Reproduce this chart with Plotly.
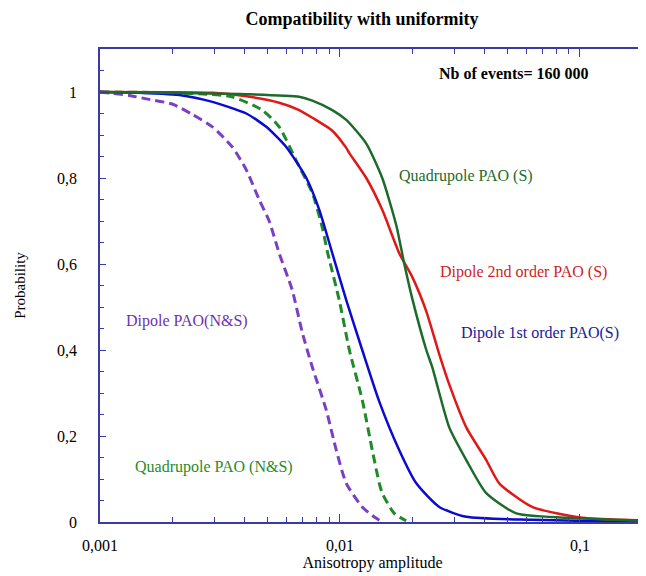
import math
import plotly.graph_objects as go

# ---- data (x = anisotropy amplitude, y = probability) ----
quad_s_x = [0.001, 0.00407, 0.00676, 0.00767, 0.00929, 0.01062, 0.01287, 0.0150, 0.01716,
            0.01854, 0.0200, 0.02289, 0.02424, 0.02853, 0.0336, 0.0407, 0.0543, 0.0877, 0.1854]
quad_s_y = [1.0, 0.995, 0.989, 0.98, 0.958, 0.935, 0.88, 0.80, 0.69,
            0.60, 0.52, 0.40, 0.36, 0.22, 0.144, 0.067, 0.02, 0.01, 0.003]

dip2_s_x = [0.001, 0.00294, 0.00407, 0.00558, 0.00676, 0.00767, 0.00929, 0.01062, 0.01094,
            0.01287, 0.0150, 0.01766, 0.0200, 0.02289, 0.02593, 0.02853, 0.0336, 0.0407,
            0.0461, 0.0632, 0.1022, 0.1854]
dip2_s_y = [1.0, 0.998, 0.99, 0.975, 0.958, 0.94, 0.91, 0.87, 0.858,
            0.80, 0.726, 0.625, 0.57, 0.49, 0.39, 0.32, 0.22, 0.144,
            0.09, 0.035, 0.01, 0.004]

dip1_s_x = [0.001, 0.001325, 0.00214, 0.00294, 0.00407, 0.00493, 0.00597, 0.00724, 0.0082,
            0.00929, 0.01062, 0.01238, 0.01458, 0.01766, 0.0208, 0.02593, 0.0336, 0.0632,
            0.120, 0.1854]
dip1_s_y = [1.0, 0.999, 0.993, 0.977, 0.95, 0.919, 0.872, 0.80, 0.726,
            0.625, 0.516, 0.40, 0.28, 0.167, 0.09, 0.035, 0.012, 0.005,
            0.002, 0.0]

quad_ns_x = [0.001, 0.00346, 0.00474, 0.00558, 0.00658, 0.00767, 0.00843, 0.00885, 0.00993,
             0.01094, 0.01238, 0.01363, 0.01458, 0.0150, 0.01683, 0.01888]
quad_ns_y = [1.0, 0.99, 0.958, 0.919, 0.84, 0.765, 0.686, 0.63, 0.516,
             0.40, 0.284, 0.167, 0.09, 0.067, 0.02, 0.003]

dip_ns_x = [0.001, 0.001125, 0.001325, 0.00156, 0.0020, 0.002424, 0.00294, 0.00356, 0.00407,
            0.00461, 0.00507, 0.00558, 0.00632, 0.00697, 0.00767, 0.00877, 0.00965, 0.01062,
            0.01238, 0.01363, 0.0150]
dip_ns_y = [1.0, 0.997, 0.992, 0.984, 0.972, 0.948, 0.919, 0.872, 0.819,
            0.749, 0.70, 0.625, 0.54, 0.44, 0.36, 0.26, 0.167, 0.09,
            0.035, 0.015, 0.0]

x_tick_vals = [0.001, 0.01, 0.1]
x_tick_text = ["0,001", "0,01", "0,1"]
y_tick_vals = [0, 0.2, 0.4, 0.6, 0.8, 1.0]
y_tick_text = ["0", "0,2", "0,4", "0,6", "0,8", "1"]

SERIF = "Liberation Serif, Times New Roman, serif"
AXC = "#3b3ba6"

fig = go.Figure()
fig.add_trace(go.Scatter(x=dip_ns_x, y=dip_ns_y, mode="lines",
                         line=dict(color="#7a3fc4", width=3, dash="9px,5px", shape="spline", smoothing=0.6),
                         name="Dipole PAO(N&S)"))
fig.add_trace(go.Scatter(x=quad_ns_x, y=quad_ns_y, mode="lines",
                         line=dict(color="#1f8a2a", width=3, dash="9px,5px", shape="spline", smoothing=0.6),
                         name="Quadrupole PAO (N&S)"))
fig.add_trace(go.Scatter(x=dip1_s_x, y=dip1_s_y, mode="lines",
                         line=dict(color="#0a0ad0", width=2.5, shape="spline", smoothing=0.6),
                         name="Dipole 1st order PAO(S)"))
fig.add_trace(go.Scatter(x=dip2_s_x, y=dip2_s_y, mode="lines",
                         line=dict(color="#e01818", width=2.5, shape="spline", smoothing=0.6),
                         name="Dipole 2nd order PAO (S)"))
fig.add_trace(go.Scatter(x=quad_s_x, y=quad_s_y, mode="lines",
                         line=dict(color="#1d6b2a", width=2.5, shape="spline", smoothing=0.6),
                         name="Quadrupole PAO (S)"))

minor_x = [m * 10 ** e for e in (-3, -2, -1) for m in range(2, 10) if m * 10 ** e < 0.19]
minor_y = [round(0.05 * i, 2) for i in range(0, 23)]

# page body has an 8px margin, so the figure is sized/offset to compensate
fig.update_layout(
    width=638, height=568,
    margin=dict(l=92, r=1, t=41, b=54),
    paper_bgcolor="white", plot_bgcolor="white",
    showlegend=False,
    font=dict(family=SERIF, size=16, color="black"),
    title=dict(text="<b>Compatibility with uniformity</b>", x=0.555, xanchor="center",
               y=0.982, yanchor="middle", font=dict(family=SERIF, size=18, color="black")),
    xaxis=dict(type="log", range=[-3, -0.729], showgrid=False, zeroline=False, automargin=False,
               showline=True, linecolor=AXC, linewidth=1.5, mirror="ticks",
               ticks="inside", ticklen=8, tickcolor=AXC, tickwidth=1.2,
               tickvals=x_tick_vals, ticktext=x_tick_text, ticklabelstandoff=8,
               tickfont=dict(family=SERIF, size=16, color="black"),
               minor=dict(tickvals=minor_x, ticks="inside", ticklen=5, tickcolor=AXC, showgrid=False),
               title=dict(text="Anisotropy amplitude", standoff=0,
                          font=dict(family=SERIF, size=16, color="black"))),
    yaxis=dict(range=[0, 1.1], showgrid=False, zeroline=False, automargin=False,
               showline=True, linecolor=AXC, linewidth=1.5, mirror="ticks",
               ticks="inside", ticklen=6, tickcolor=AXC, tickwidth=1.2,
               tickvals=y_tick_vals, ticktext=y_tick_text, ticklabelstandoff=18,
               tickfont=dict(family=SERIF, size=16, color="black"),
               minor=dict(tickvals=minor_y, ticks="inside", ticklen=4, tickcolor=AXC, showgrid=False),
               title=dict(text="Probability", standoff=28,
                          font=dict(family=SERIF, size=15, color="black"))),
)

labels = [
    ("<b>Nb of events= 160 000</b>", 0.0532, 1.044, "black"),
    ("Quadrupole PAO (S)", 0.0336, 0.805, "#1d6b2a"),
    ("Dipole 2nd order PAO (S)", 0.0581, 0.581, "#cc1f1f"),
    ("Dipole 1st order PAO(S)", 0.0683, 0.44, "#1a1a9a"),
    ("Dipole PAO(N&S)", 0.00231, 0.467, "#7030b0"),
    ("Quadrupole PAO (N&S)", 0.00299, 0.128, "#2a8a2a"),
]
for txt, xv, yv, col in labels:
    fig.add_annotation(x=math.log10(xv), y=yv, xref="x", yref="y", text=txt, showarrow=False,
                       xanchor="center", yanchor="middle",
                       font=dict(family=SERIF, size=16, color=col))

fig.write_html("out.html")
